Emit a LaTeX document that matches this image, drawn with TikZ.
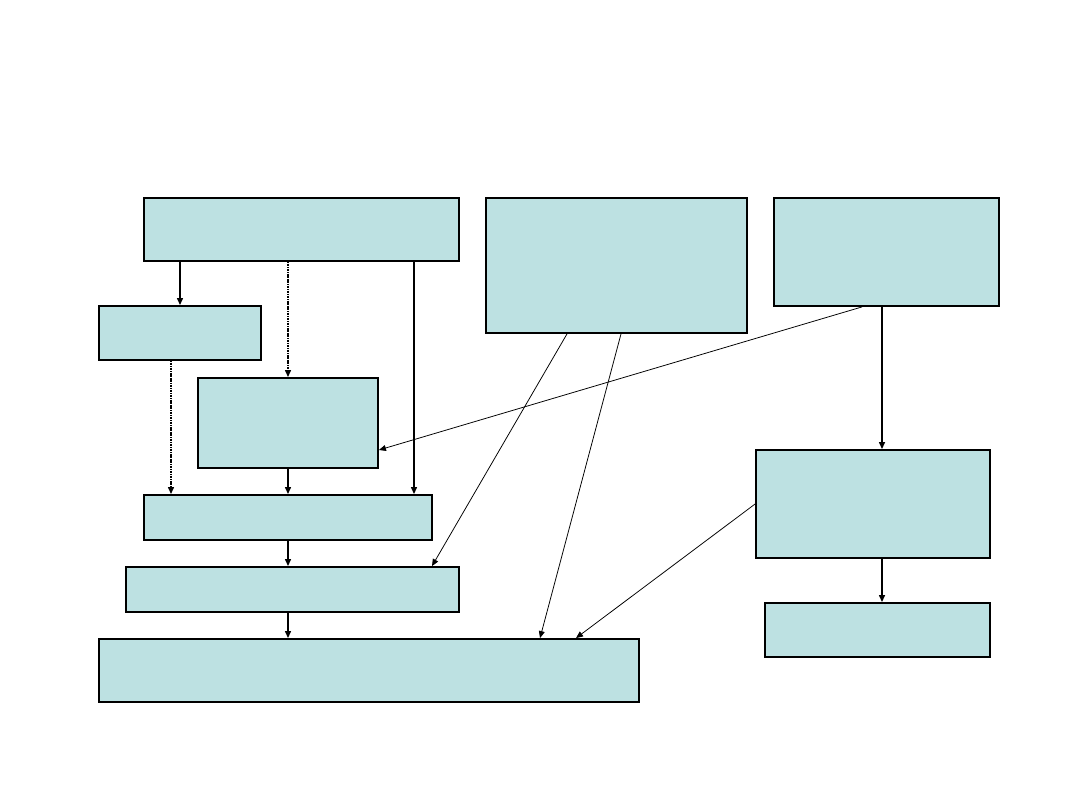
\documentclass[tikz,border=0pt]{standalone}
\usepackage{tikz}
\usetikzlibrary{fit,arrows.meta}
\definecolor{BoxCyan}{HTML}{BDE1E2}

\tikzset{
  box/.style={draw=black, fill=BoxCyan, line width=1.3pt, inner sep=0pt},
  link/.style={line width=1.1pt, -{Triangle[length=5pt,width=4.2pt]}},
  dotlink/.style={link, dash pattern=on 0.8pt off 0.4pt},
  thinlink/.style={line width=0.55pt, -{Triangle[length=5pt,width=4.2pt]}}
}

\begin{document}
\begin{tikzpicture}[x=0.025cm, y=-0.025cm]
  \useasboundingbox[fill=white] (0,0) rectangle (1080,810);

  % boxes
  \node[box, fit={(144,198) (459,261)}] (top) {};
  \node[box, fit={(486,198) (747,333)}] (mid) {};
  \node[box, fit={(774,198) (999,306)}] (right) {};
  \node[box, fit={(99,306) (261,360)}] (left) {};
  \node[box, fit={(198,378) (378,468)}] (centre) {};
  \node[box, fit={(144,495) (432,540)}] (rowa) {};
  \node[box, fit={(126,567) (459,612)}] (rowb) {};
  \node[box, fit={(99,639) (639,702)}] (bottom) {};
  \node[box, fit={(756,450) (990,558)}] (side) {};
  \node[box, fit={(765,603) (990,657)}] (sidelow) {};

  % vertical links
  \draw[link] (top.south -| 180,0) -- (left.north -| 180,0);
  \draw[dotlink] (top.south -| 288,0) -- (centre.north -| 288,0);
  \draw[link] (top.south -| 414,0) -- (rowa.north -| 414,0);
  \draw[dotlink] (left.south -| 171,0) -- (rowa.north -| 171,0);
  \draw[link] (centre.south -| 288,0) -- (rowa.north -| 288,0);
  \draw[link] (rowa.south -| 288,0) -- (rowb.north -| 288,0);
  \draw[link] (rowb.south -| 288,0) -- (bottom.north -| 288,0);
  \draw[link] (right.south -| 882,0) -- (side.north -| 882,0);
  \draw[link] (side.south -| 882,0) -- (sidelow.north -| 882,0);

  % slanted links
  \draw[thinlink] (right.south -| 862,0) -- (centre.east |- 0,450);
  \draw[thinlink] (mid.south -| 567,0) -- (rowb.north -| 432,0);
  \draw[thinlink] (mid.south -| 621,0) -- (bottom.north -| 540,0);
  \draw[thinlink] (side.west |- 0,504) -- (bottom.north -| 576,0);
\end{tikzpicture}
\end{document}
